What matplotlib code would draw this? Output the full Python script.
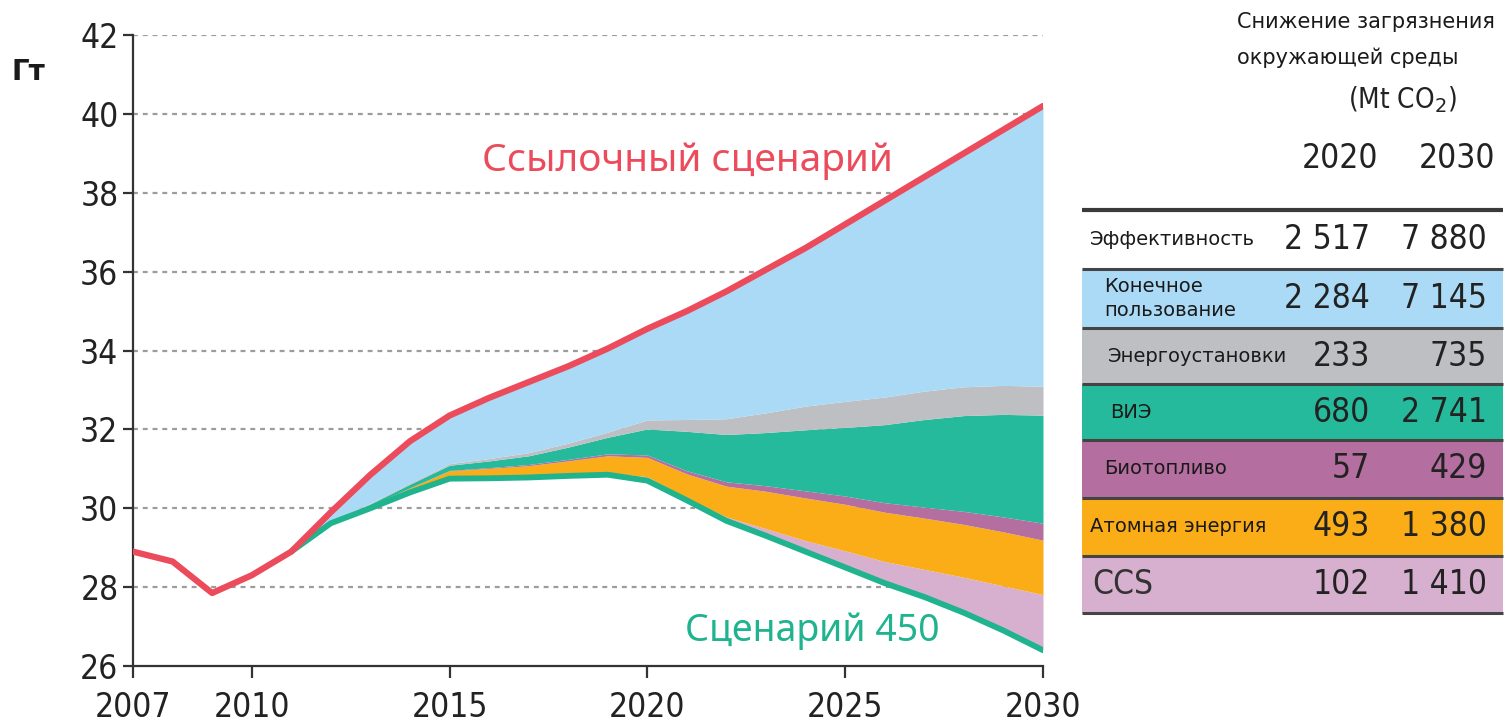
import matplotlib.pyplot as plt
from matplotlib.patches import Rectangle

# reference scenario (Gt CO2)
years = list(range(2007, 2031))
reference = [28.9, 28.65, 27.85, 28.3, 28.9, 29.9, 30.85, 31.7, 32.35, 32.8, 33.2, 33.6,
             34.05, 34.55, 35.0, 35.5, 36.05, 36.6, 37.2, 37.8, 38.4, 39.0, 39.6, 40.2]

# 450 scenario and abatement wedges, from 2011
years_w = list(range(2011, 2031))
scen450 = [28.9, 29.62, 30.0, 30.4, 30.75, 30.76, 30.78, 30.82, 30.85, 30.7,
           30.2, 29.68, 29.3, 28.9, 28.5, 28.1, 27.75, 27.35, 26.9, 26.4]
ccs = [0, 0, 0, 0, 0, 0, 0, 0.02, 0.05, 0.1,
       0.05, 0.1, 0.18, 0.28, 0.42, 0.55, 0.7, 0.9, 1.13, 1.41]
nuclear = [0, 0.02, 0.06, 0.12, 0.2, 0.25, 0.3, 0.36, 0.43, 0.49,
           0.62, 0.78, 0.95, 1.08, 1.18, 1.25, 1.3, 1.34, 1.37, 1.38]
biofuel = [0, 0, 0, 0, 0.01, 0.02, 0.03, 0.04, 0.05, 0.06,
           0.08, 0.11, 0.14, 0.18, 0.21, 0.24, 0.28, 0.33, 0.38, 0.43]
renew = [0, 0.02, 0.05, 0.09, 0.13, 0.17, 0.22, 0.31, 0.42, 0.66,
         1.0, 1.2, 1.35, 1.55, 1.74, 1.98, 2.22, 2.43, 2.6, 2.74]
plants = [0, 0.01, 0.02, 0.03, 0.04, 0.06, 0.08, 0.1, 0.13, 0.23,
          0.3, 0.4, 0.5, 0.6, 0.66, 0.7, 0.72, 0.73, 0.735, 0.735]

# table
row_labels = ["Эффективность", "Конечное\nпользование", "Энергоустановки", "ВИЭ",
              "Биотопливо", "Атомная энергия", "CCS"]
vals_2020 = ["2 517", "2 284", "233", "680", "57", "493", "102"]
vals_2030 = ["7 880", "7 145", "735", "2 741", "429", "1 380", "1 410"]

c_red = "#EC4B5B"
c_blue = "#ABDAF6"
c_grey = "#BEBFC2"
c_teal = "#25BA9B"
c_purple = "#B56EA0"
c_orange = "#FBAD18"
c_lilac = "#D7AFCF"
c_line450 = "#1FB38E"
row_colors = ["white", c_blue, c_grey, c_teal, c_purple, c_orange, c_lilac]

narrow = dict(family=["Liberation Sans Narrow", "DejaVu Sans"], stretch="condensed")

fig = plt.figure(figsize=(15.04, 7.26), dpi=100)
ax = fig.add_axes([133/1504, 1-666/726, (1043-133)/1504, (666-35)/726])

# stack wedges on top of the 450 line
stack = [scen450]
for w in [ccs, nuclear, biofuel, renew, plants]:
    prev = stack[-1]
    stack.append([a + b for a, b in zip(prev, w)])
fills = [c_lilac, c_orange, c_purple, c_teal, c_grey]
for i, col in enumerate(fills):
    ax.fill_between(years_w, stack[i], stack[i+1], color=col, lw=0, zorder=2)
ax.fill_between(years_w, stack[-1], reference[4:], color=c_blue, lw=0, zorder=2)

ax.plot(years_w, scen450, color=c_line450, lw=4.2, zorder=3, solid_capstyle="round")
ax.plot(years, reference, color=c_red, lw=4.5, zorder=4, solid_capstyle="round")

ax.set_xlim(2007, 2030)
ax.set_ylim(26, 42)
ax.set_yticks(range(26, 43, 2))
ax.set_xticks([2007, 2010, 2015, 2020, 2025, 2030])
for y in range(28, 43, 2):
    ax.axhline(y, color="#9c9c9c", lw=1.6, ls=(0, (2.2, 2.2)), zorder=1)

for s in ["top", "right"]:
    ax.spines[s].set_visible(False)
for s in ["left", "bottom"]:
    ax.spines[s].set_linewidth(1.6)
    ax.spines[s].set_color("#333333")
ax.tick_params(width=1.6, color="#333333", labelsize=24, labelcolor="#222222")
ax.tick_params(axis="y", length=7)
ax.tick_params(axis="x", length=8.5, pad=9.5)
for t in ax.get_xticklabels() + ax.get_yticklabels():
    t.set_family(narrow["family"])
    t.set_stretch("condensed")

ax.text(2026.2, 38.8, "Ссылочный сценарий", color=c_red, fontsize=28,
        family="Noto Sans", ha="right", va="center", zorder=5)
ax.text(2020.95, 26.9, "Сценарий 450", color=c_line450, fontsize=27,
        family="Noto Sans", ha="left", va="center", zorder=5)

fig.text(12/1504, 1-72/726, "Гт", fontsize=20, fontweight="bold", color="#1a1a1a",
         va="center", ha="left")

# table overlay in pixel coordinates
tb = fig.add_axes([0, 0, 1, 1])
tb.set_xlim(0, 1504)
tb.set_ylim(726, 0)
tb.axis("off")
tb.patch.set_alpha(0)

edges = [210, 269, 328, 384, 440, 498, 556, 613]
for i, col in enumerate(row_colors):
    tb.add_patch(Rectangle((1082, edges[i]), 421, edges[i+1]-edges[i], color=col, lw=0))
for i, e in enumerate(edges):
    tb.plot([1082, 1503], [e, e], color="#3a3a3a" if i == 0 else "#444444",
            lw=3 if i == 0 else 2.2, solid_capstyle="butt")

label_x = [1090, 1104, 1108, 1110, 1104, 1090, 1092]
for i, lab in enumerate(row_labels):
    yc = (edges[i] + edges[i+1]) / 2
    if lab == "CCS":
        tb.text(label_x[i], yc, lab, fontsize=24, color="#333333",
                ha="left", va="center", **narrow)
    else:
        tb.text(label_x[i], yc, lab, fontsize=14, color="#1a1a1a", ha="left",
                va="center", linespacing=1.3)
    tb.text(1370, yc, vals_2020[i], fontsize=24, color="#222222",
            ha="right", va="center", **narrow)
    tb.text(1487, yc, vals_2030[i], fontsize=24, color="#222222",
            ha="right", va="center", **narrow)

tb.text(1237, 22, "Снижение загрязнения", fontsize=15, color="#1a1a1a", ha="left", va="center")
tb.text(1237, 58, "окружающей среды", fontsize=15, color="#1a1a1a", ha="left", va="center")
tb.text(1403, 100, "(Mt CO$_2$)", fontsize=20, color="#222222",
        ha="center", va="center", **narrow)
tb.text(1340, 158, "2020", fontsize=24, color="#222222", ha="center", va="center", **narrow)
tb.text(1457, 158, "2030", fontsize=24, color="#222222", ha="center", va="center", **narrow)

fig.savefig("out.png", dpi=100)
